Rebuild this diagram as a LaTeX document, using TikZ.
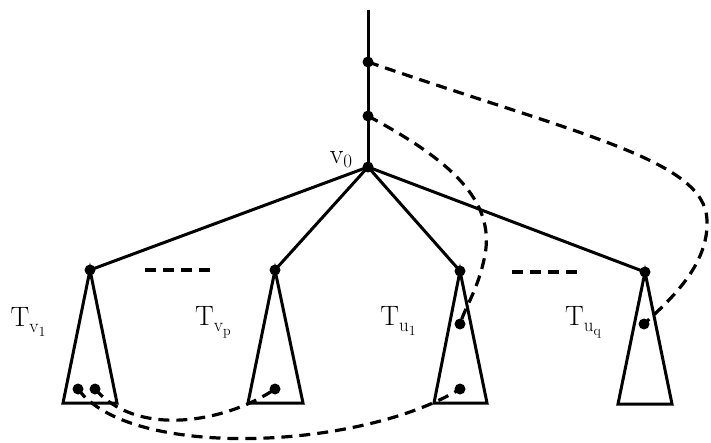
\documentclass[tikz,border=0pt]{standalone}
\newcommand\mylab[2]{T\raisebox{-6pt}{\fontsize{19}{20}\selectfont #1\raisebox{-4pt}{\fontsize{14}{15}\selectfont #2}}}
\begin{document}
\begin{tikzpicture}[x=1pt,y=-1pt,
 dot/.style={circle,fill=black,inner sep=0pt,minimum size=11pt},
 edge/.style={line width=3pt,line join=miter},
 dashedge/.style={line width=3.2pt,dash pattern=on 11pt off 7pt},
 lbl/.style={font=\fontsize{28}{32}\selectfont,inner sep=0pt}]
\useasboundingbox (0,0) rectangle (711,443);
\coordinate (top) at (368,10);
\node[dot] (a) at (368,62) {};
\node[dot] (b) at (368,116) {};
\node[dot] (v0) at (368,167) {};
\node[dot] (v1) at (90,270) {};
\node[dot] (vp) at (275,270) {};
\node[dot] (u1) at (460,271) {};
\node[dot] (uq) at (645,272) {};
% triangle base corners
\coordinate (v1L) at (63,403); \coordinate (v1R) at (117,403);
\coordinate (vpL) at (248,403); \coordinate (vpR) at (303,403);
\coordinate (u1L) at (434,403); \coordinate (u1R) at (487,403);
\coordinate (uqL) at (618,404); \coordinate (uqR) at (672,404);
% dots inside subtrees
\node[dot] (d1) at (78,389) {};
\node[dot] (d2) at (95,389) {};
\node[dot] (d3) at (275,389) {};
\node[dot] (d4) at (460,324) {};
\node[dot] (d5) at (460,389) {};
\node[dot] (d6) at (644,324) {};
% dashed placeholders
\coordinate (h1a) at (145,270); \coordinate (h1b) at (210,270);
\coordinate (h2a) at (512,272); \coordinate (h2b) at (578,272);
% solid edges
\draw[edge] (top) -- (v0.center);
\foreach \c in {v1,vp,u1,uq} \draw[edge] (v0.center) -- (\c.center);
\foreach \c in {v1,vp,u1,uq} \draw[edge] (\c.center) -- (\c L) -- (\c R) -- cycle;
% dashed
\draw[dashedge] (h1a) -- (h1b);
\draw[dashedge] (h2a) -- (h2b);
\draw[dashedge] (a.center) .. controls (580,135) and (705,160) .. (707,220)
  .. controls (709,265) and (670,300) .. (d6.center);
\draw[dashedge] (b.center) .. controls (450,160) and (495,200) .. (485,255)
  .. controls (478,290) and (466,305) .. (d4.center);
\draw[dashedge] (d2.center) .. controls (140,440) and (230,420) .. (d3.center);
\draw[dashedge] (d1.center) .. controls (130,460) and (360,450) .. (d5.center);
% labels
\node[lbl] (lv0) at (341,160) {v\raisebox{-4pt}{\fontsize{19}{20}\selectfont 0}};
\node[lbl] (l1) at (28,322) {\mylab{v}{1}};
\node[lbl] (l2) at (213,322) {\mylab{v}{p}};
\node[lbl] (l3) at (398,321) {\mylab{u}{1}};
\node[lbl] (l4) at (583,322) {\mylab{u}{q}};
\end{tikzpicture}
\end{document}
